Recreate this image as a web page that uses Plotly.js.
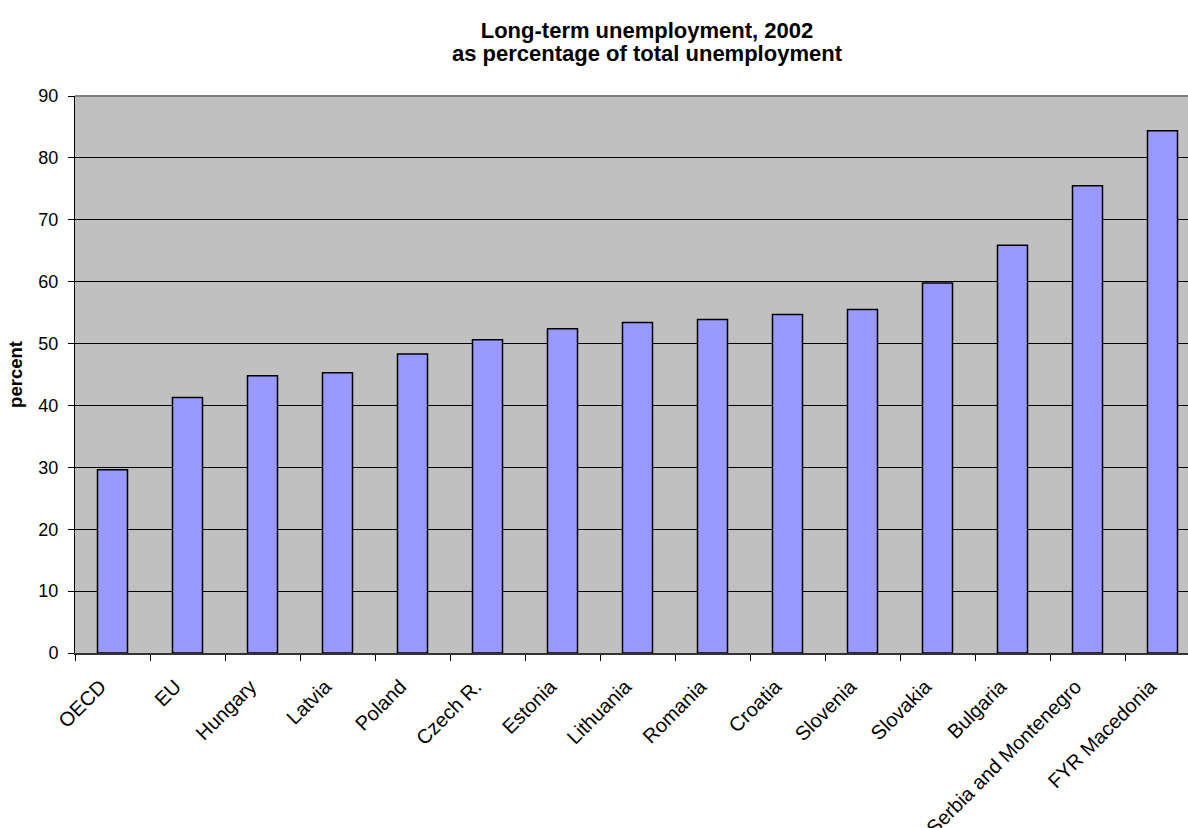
<!DOCTYPE html>
<html>
<head>
<meta charset="utf-8">
<script src="https://cdn.plot.ly/plotly-3.0.1.min.js"></script>
<style>html,body{margin:0;padding:0;background:#fff;overflow:hidden;width:1188px;height:828px;}#chart{width:1212px;height:828px;}</style>
</head>
<body>
<div id="chart"></div>
<script>
const countries = ["OECD","EU","Hungary","Latvia","Poland","Czech R.","Estonia","Lithuania","Romania","Croatia","Slovenia","Slovakia","Bulgaria","Serbia and Montenegro","FYR Macedonia"];
const values = [29.6, 41.3, 44.8, 45.3, 48.3, 50.6, 52.4, 53.4, 53.9, 54.7, 55.5, 59.8, 65.9, 75.5, 84.4];
const yTicks = [0,10,20,30,40,50,60,70,80,90];
const titleLine1 = "Long-term unemployment, 2002";
const titleLine2 = "as percentage of total unemployment";

const font = "Liberation Sans, Arial, sans-serif";
const W = 1212, H = 828;
const trace = {
  type: "bar",
  x: countries,
  y: values,
  marker: {color: "#9999FF", line: {color: "#000000", width: 1.5}},
  hoverinfo: "x+y"
};
const layout = {
  width: W, height: H,
  margin: {l: 75, r: 12, t: 96, b: 175},
  paper_bgcolor: "#ffffff",
  plot_bgcolor: "#C0C0C0",
  bargap: 0.6,
  showlegend: false,
  title: {
    text: "<b>" + titleLine1 + "</b>",
    font: {family: font, size: 22, color: "#000"},
    xref: "container", x: 647 / W, xanchor: "center",
    yref: "container", y: 1 - 30 / H, yanchor: "middle"
  },
  annotations: [{
    text: "<b>" + titleLine2 + "</b>",
    font: {family: font, size: 22, color: "#000"},
    xref: "paper", yref: "paper",
    x: (647 - 75) / 1125, y: (653 - 54) / 557,
    xanchor: "center", yanchor: "middle", showarrow: false
  }],
  xaxis: {
    type: "category",
    tickangle: -45,
    tickfont: {family: font, size: 20, color: "#000"},
    ticks: "outside", ticklen: 6, tickcolor: "#000", tickwidth: 1,
    tickson: "boundaries",
    ticklabelstandoff: 12,
    ticklabelshift: -12,
    showline: true, linecolor: "#333", linewidth: 2,
    showgrid: false,
    automargin: false
  },
  yaxis: {
    range: [0, 90],
    tickvals: yTicks,
    ticktext: yTicks.map(String),
    tickfont: {family: font, size: 18, color: "#000"},
    ticks: "outside", ticklen: 6, tickcolor: "#000", tickwidth: 1,
    ticklabelstandoff: 6,
    showline: true, linecolor: "#000", linewidth: 1,
    gridcolor: "#000", gridwidth: 1,
    zeroline: false,
    title: {text: "<b>percent</b>", font: {family: font, size: 18.5, color: "#000"}, standoff: 10},
    automargin: false
  },
  shapes: [
    {type: "line", xref: "paper", yref: "paper", x0: 0, x1: 1, y0: 1, y1: 1, line: {color: "#808080", width: 2}}
  ]
};
Plotly.newPlot("chart", [trace], layout, {displayModeBar: false, staticPlot: true});
</script>
</body>
</html>
